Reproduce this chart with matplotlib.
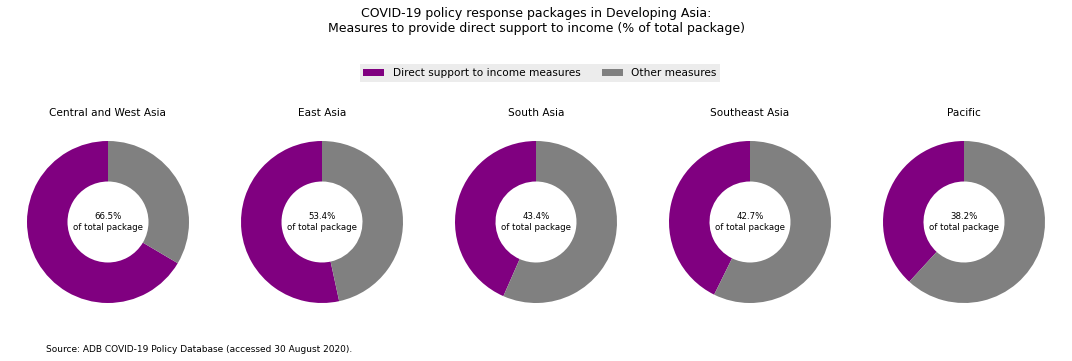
import matplotlib.pyplot as plt
from matplotlib.patches import Patch

regions = ['Central and West Asia', 'East Asia', 'South Asia', 'Southeast Asia', 'Pacific']
direct_share = [66.5, 53.4, 43.4, 42.7, 38.2]
labels = ['Direct support to income measures', 'Other measures']
colors = ['purple', 'gray']

W, H = 1072, 361
fig = plt.figure(figsize=(W / 100, H / 100), dpi=100)

fig.suptitle('COVID-19 policy response packages in Developing Asia:\n'
             'Measures to provide direct support to income (% of total package)',
             fontsize=9, y=0.98)

r = 81
for i, (name, val) in enumerate(zip(regions, direct_share)):
    cx, cy = 108 + 214 * i, 222
    ax = fig.add_axes([(cx - r) / W, (H - cy - r) / H, 2 * r / W, 2 * r / H])
    ax.pie([val, 100 - val], colors=colors, startangle=90, counterclock=True,
           radius=1, wedgeprops=dict(width=0.5))
    ax.set_xlim(-1, 1)
    ax.set_ylim(-1, 1)
    ax.set_aspect('equal')
    ax.set_title(name, fontsize=7.6, pad=18)
    ax.text(0, 0, f'{val}%\nof total package', ha='center', va='center', fontsize=6.2)

handles = [Patch(facecolor=c, label=l) for c, l in zip(colors, labels)]
fig.legend(handles=handles, loc='center', bbox_to_anchor=(540 / W, 1 - 73 / H),
           ncol=2, fontsize=7.6, frameon=True, facecolor='#e8e8e8', edgecolor='none',
           fancybox=False, handlelength=2.0, handleheight=0.6, columnspacing=2.0,
           borderpad=0.35)

fig.text(46 / W, 1 - 349 / H, 'Source: ADB COVID-19 Policy Database (accessed 30 August 2020).',
         fontsize=6.5, va='center')

fig.savefig('out.png', dpi=100)
